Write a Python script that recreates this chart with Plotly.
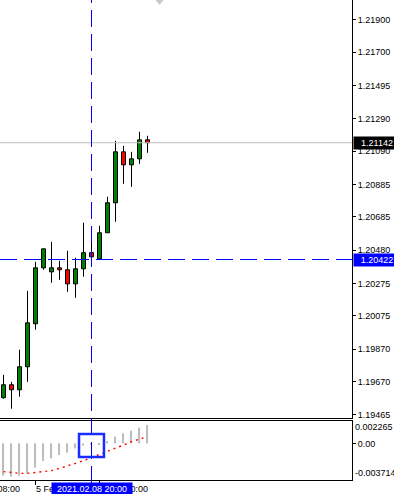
import plotly.graph_objects as go

# ---------------- data ----------------
times = ["2021.02.05 00:00", "2021.02.05 04:00", "2021.02.05 08:00", "2021.02.05 12:00",
         "2021.02.05 16:00", "2021.02.05 20:00", "2021.02.08 00:00", "2021.02.08 04:00",
         "2021.02.08 08:00", "2021.02.08 12:00", "2021.02.08 16:00", "2021.02.08 20:00",
         "2021.02.09 00:00", "2021.02.09 04:00", "2021.02.09 08:00", "2021.02.09 12:00",
         "2021.02.09 16:00", "2021.02.09 20:00", "2021.02.10 00:00"]
opens = [1.19570, 1.19650, 1.19619, 1.19761, 1.20026, 1.20371, 1.20346, 1.20371, 1.20359, 1.20272,
         1.20365, 1.20464, 1.20427, 1.20587, 1.20772, 1.21086, 1.21006, 1.21043, 1.21160]
highs = [1.19711, 1.19668, 1.19866, 1.20229, 1.20408, 1.20488, 1.20531, 1.20414, 1.20476, 1.20433,
         1.20649, 1.20568, 1.20630, 1.20809, 1.21154, 1.21123, 1.21086, 1.21210, 1.21185]
lows = [1.19564, 1.19502, 1.19576, 1.19668, 1.19989, 1.20359, 1.20279, 1.20297, 1.20223, 1.20186,
        1.20316, 1.20439, 1.20427, 1.20587, 1.20655, 1.20889, 1.20870, 1.21012, 1.21080]
closes = [1.19650, 1.19619, 1.19761, 1.20032, 1.20371, 1.20488, 1.20371, 1.20359, 1.20272, 1.20365,
          1.20464, 1.20439, 1.20587, 1.20772, 1.21086, 1.21006, 1.21043, 1.21160, 1.21142]
macd_main = [-0.00327, -0.00337, -0.00327, -0.00304, -0.00246, -0.00179, -0.00152, -0.00118, -0.00094,
             -0.00051, -0.00023, -0.00017, -0.00010, 0.00023, 0.00068, 0.00101, 0.00129, 0.00159, 0.00185]
macd_signal = [-0.00287, -0.00297, -0.00304, -0.00304, -0.00297, -0.00287, -0.00277, -0.00253, -0.00230,
               -0.00203, -0.00175, -0.00145, -0.00111, -0.00084, -0.00051, -0.00017, 0.00017, 0.00044, 0.00068]

price_ticks = [1.21900, 1.21700, 1.21495, 1.21290, 1.21090, 1.20885, 1.20685, 1.20480,
               1.20275, 1.20075, 1.19870, 1.19670, 1.19465]
price_ticktext = ["%.5f" % v for v in price_ticks]
ind_max_label = "0.002265"
ind_min_label = "-0.003714"
ind_zero_label = "0.00"
time_tick_idx = [-4, 4, 12]
time_tick_text = ["4 Feb 08:00", "5 Feb 16:00", "9 Feb 00:00"]

cross_idx = 11
cross_price = 1.20422
bid_price = closes[-1]
cross_box_ind = [-0.00138, 0.00095]   # indicator-value extent of crosshair box

# ---------------- geometry ----------------
W, H = 394, 494
ML, MR, MT, MB = 0, 42, 0, 14
PW, PH = W - ML - MR, H - MT - MB
XMIN = -0.4375
XMAX = XMIN + 44.0
PMAX = 1.22022
PMIN = PMAX - 0.02577
IMIN, IMAX = -0.003714, 0.002265
MAIN_BOTTOM_PX = 418
IND_TOP_PX = 421

def xp(i):
    return (i - XMIN) / (XMAX - XMIN)

def yp(px):
    return (PH - px) / PH

BLUE = "#0000ff"
FONT = "Liberation Sans, Arial, sans-serif"
idx = list(range(len(times)))

fig = go.Figure()

# wicks (outside the bodies)
wx, wy = [], []
for i, (o, h, l, c) in enumerate(zip(opens, highs, lows, closes)):
    top, bot = max(o, c), min(o, c)
    wx += [i, i, None, i, i, None]
    wy += [h, top, None, bot, l, None]
fig.add_trace(go.Scatter(x=wx, y=wy, mode="lines", line=dict(color="black", width=1),
                         hoverinfo="skip", showlegend=False, xaxis="x", yaxis="y"))

# bodies
fig.add_trace(go.Bar(
    x=idx, y=[abs(c - o) for o, c in zip(opens, closes)],
    base=[min(o, c) for o, c in zip(opens, closes)],
    width=0.5,
    marker=dict(color=["#008000" if c >= o else "#ff0000" for o, c in zip(opens, closes)],
                line=dict(color="black", width=1)),
    hovertext=times, showlegend=False, xaxis="x", yaxis="y"))

# indicator
fig.add_trace(go.Bar(x=idx, y=macd_main, width=0.14, marker=dict(color="#bdbdbd", line=dict(width=0)),
                     showlegend=False, xaxis="x2", yaxis="y2"))
fig.add_trace(go.Scatter(x=idx, y=macd_signal, mode="lines",
                         line=dict(color="#ff0000", width=1.4, dash="2px,4px"),
                         showlegend=False, xaxis="x2", yaxis="y2"))

shapes = [
    dict(type="line", xref="x domain", x0=0, x1=1, yref="y", y0=bid_price, y1=bid_price,
         line=dict(color="#c0c0c0", width=1)),
    dict(type="line", xref="x domain", x0=0, x1=1, yref="y", y0=cross_price, y1=cross_price,
         line=dict(color=BLUE, width=1, dash="17px,7px")),
    dict(type="line", xref="x", x0=cross_idx, x1=cross_idx, yref="paper", y0=yp(483), y1=1,
         line=dict(color=BLUE, width=1, dash="17px,7px")),
    dict(type="rect", xref="x2", x0=cross_idx - 1.56, x1=cross_idx + 1.56, yref="y2",
         y0=cross_box_ind[0], y1=cross_box_ind[1], line=dict(color="#1a2cff", width=2.5)),
    dict(type="path", xref="x", yref="paper",
         path="M 19.0,%f L 20.0,%f L 19.5,%f Z" % (1.0, 1.0, yp(5)),
         fillcolor="#c8c8c8", line=dict(width=0)),
]

annotations = []
for i, t in zip(time_tick_idx, time_tick_text):
    annotations.append(dict(xref="paper", yref="paper", x=xp(i) - 1.5 / PW, y=yp(489),
                            text=t, showarrow=False, xanchor="left", yanchor="middle",
                            font=dict(family=FONT, size=9, color="black")))
annotations += [
    dict(xref="paper", yref="y", x=353 / PW, y=bid_price, text="%.5f" % bid_price, showarrow=False,
         xanchor="left", yanchor="middle", bgcolor="black", width=44, align="center", borderpad=1,
         font=dict(family=FONT, size=9, color="white")),
    dict(xref="paper", yref="y", x=353 / PW, y=cross_price, text="%.5f" % cross_price, showarrow=False,
         xanchor="left", yanchor="middle", bgcolor=BLUE, width=44, align="center", borderpad=1,
         font=dict(family=FONT, size=9, color="white")),
    dict(xref="paper", yref="paper", x=353 / PW, y=yp(427), text=ind_max_label, showarrow=False,
         xanchor="left", yanchor="middle", font=dict(family=FONT, size=9, color="black")),
    dict(xref="paper", yref="paper", x=353 / PW, y=yp(473), text=ind_min_label, showarrow=False,
         xanchor="left", yanchor="middle", font=dict(family=FONT, size=9, color="black")),
    dict(xref="paper", yref="paper", x=xp(cross_idx), y=yp(488.5), text=times[cross_idx], showarrow=False,
         xanchor="center", yanchor="middle", bgcolor=BLUE, width=78, borderpad=1, align="center",
         font=dict(family=FONT, size=9, color="white")),
]

axis_common = dict(showgrid=False, zeroline=False, showline=True, linecolor="black", linewidth=1)
fig.update_layout(
    width=W, height=H, margin=dict(l=ML, r=MR, t=MT, b=MB, pad=0),
    paper_bgcolor="white", plot_bgcolor="white", showlegend=False,
    barmode="overlay", font=dict(family=FONT, size=9, color="black"),
    xaxis=dict(domain=[0, 1], range=[XMIN, XMAX], anchor="y", mirror=True, showticklabels=False,
               ticks="", **axis_common),
    yaxis=dict(domain=[yp(MAIN_BOTTOM_PX), 1], range=[PMIN, PMAX], side="right", anchor="x",
               tickvals=price_ticks, ticktext=price_ticktext, ticks="outside", ticklen=3,
               tickcolor="black", tickfont=dict(family=FONT, size=9, color="black"), **axis_common),
    xaxis2=dict(domain=[0, 1], range=[XMIN, XMAX], anchor="y2", mirror=True, matches="x",
                tickvals=time_tick_idx, ticks="outside", ticklen=4, tickcolor="black",
                showticklabels=False, **axis_common),
    yaxis2=dict(domain=[0, yp(IND_TOP_PX)], range=[IMIN, IMAX], side="right", anchor="x2",
                tickvals=[0], ticktext=[ind_zero_label], ticks="outside", ticklen=3, tickcolor="black",
                tickfont=dict(family=FONT, size=9, color="black"), **axis_common),
    shapes=shapes, annotations=annotations,
)

fig.write_html("out.html")
